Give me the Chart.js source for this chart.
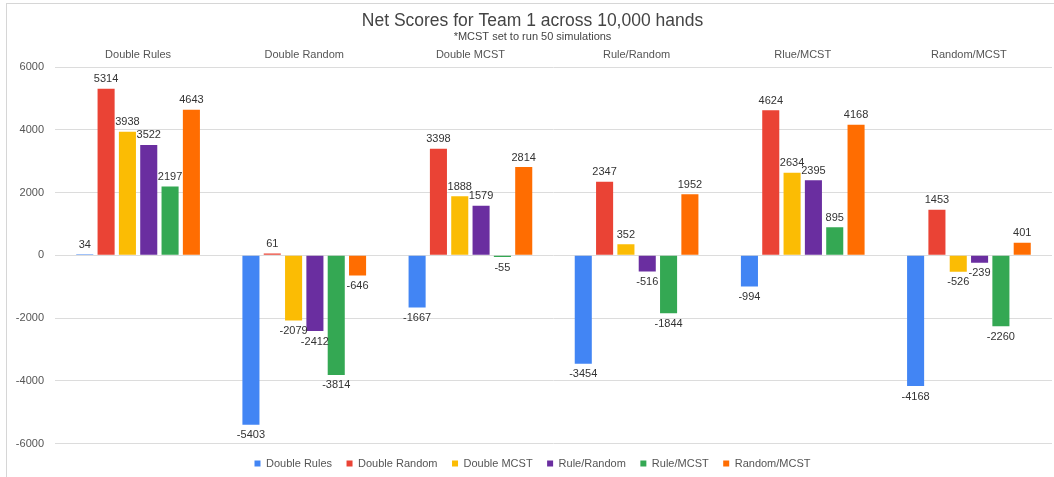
<!DOCTYPE html>
<html>
<head>
<meta charset="utf-8">
<script src="https://cdn.jsdelivr.net/npm/chart.js@4/dist/chart.umd.min.js"></script>
<style>
  html, body { margin: 0; padding: 0; background: #fff; overflow: hidden; }
  #wrap { position: absolute; left: 6px; top: 3px; width: 1048px; height: 480px;
          border-left: 1px solid #d6d6d6; border-top: 1px solid #d6d6d6; }
  canvas { display: block; }
</style>
</head>
<body>
<div id="wrap"><canvas id="chart" width="1047" height="475"></canvas></div>
<script>
  // categories across the top
  var categories = ["Double Rules", "Double Random", "Double MCST", "Rule/Random", "Rlue/MCST", "Random/MCST"];

  // one series per matchup
  var seriesNames = ["Double Rules", "Double Random", "Double MCST", "Rule/Random", "Rule/MCST", "Random/MCST"];
  var doubleRules  = [34, -5403, -1667, -3454, -994, -4168];
  var doubleRandom = [5314, 61, 3398, 2347, 4624, 1453];
  var doubleMcst   = [3938, -2079, 1888, 352, 2634, -526];
  var ruleRandom   = [3522, -2412, 1579, -516, 2395, -239];
  var ruleMcst     = [2197, -3814, -55, -1844, 895, -2260];
  var randomMcst   = [4643, -646, 2814, 1952, 4168, 401];
  var colors = ["#4285f4", "#ea4335", "#fbbc04", "#6a2ea0", "#34a853", "#ff6d01"];

  var allSeries = [doubleRules, doubleRandom, doubleMcst, ruleRandom, ruleMcst, randomMcst];
  var FONT = "'Liberation Sans', Arial, sans-serif";

  var datasets = allSeries.map(function (vals, i) {
    return {
      label: seriesNames[i],
      data: vals,
      backgroundColor: colors[i],
      borderWidth: 0,
      categoryPercentage: 0.77,
      barPercentage: 0.8
    };
  });

  /* ── value labels above / below each bar ── */
  var valueLabels = {
    id: "valueLabels",
    afterDatasetsDraw: function (chart) {
      var ctx = chart.ctx;
      ctx.save();
      ctx.font = "11px " + FONT;
      ctx.fillStyle = "#333";
      ctx.textAlign = "center";
      chart.data.datasets.forEach(function (ds, di) {
        var meta = chart.getDatasetMeta(di);
        meta.data.forEach(function (bar, i) {
          var v = ds.data[i];
          if (v >= 0) {
            ctx.textBaseline = "bottom";
            ctx.fillText(String(v), bar.x, bar.y - 4);
          } else {
            ctx.textBaseline = "top";
            ctx.fillText(String(v), bar.x, bar.y + 5);
          }
        });
      });
      ctx.restore();
    }
  };

  new Chart(document.getElementById("chart"), {
    type: "bar",
    data: { labels: categories, datasets: datasets },
    plugins: [valueLabels],
    options: {
      responsive: false,
      animation: false,
      layout: { padding: { left: 6, right: 2, top: 0, bottom: 0 } },
      plugins: {
        title: {
          display: true,
          text: "Net Scores for Team 1 across 10,000 hands",
          color: "#444",
          font: { family: FONT, size: 17.5, weight: "normal", lineHeight: 1 },
          padding: { top: 8, bottom: 1.5 }
        },
        subtitle: {
          display: true,
          text: "*MCST set to run 50 simulations",
          color: "#444",
          font: { family: FONT, size: 11, lineHeight: 1 },
          padding: { top: 0, bottom: 0 }
        },
        legend: {
          position: "bottom",
          labels: {
            boxWidth: 6,
            boxHeight: 6,
            padding: 14.5,
            color: "#555",
            font: { family: FONT, size: 11 }
          }
        },
        tooltip: { enabled: false }
      },
      scales: {
        x: {
          position: "top",
          grid: { display: false, drawTicks: false },
          border: { display: false },
          ticks: {
            color: "#555",
            font: { family: FONT, size: 11 },
            padding: 6
          }
        },
        y: {
          min: -6000,
          max: 6000,
          afterFit: function (s) { s.width = 42; },
          grid: { color: "#dcdcdc", drawTicks: false },
          border: { display: false },
          ticks: {
            stepSize: 2000,
            color: "#555",
            padding: 11,
            font: { family: FONT, size: 11 },
            callback: function (v) { return String(v); }
          }
        }
      }
    }
  });
</script>
</body>
</html>
